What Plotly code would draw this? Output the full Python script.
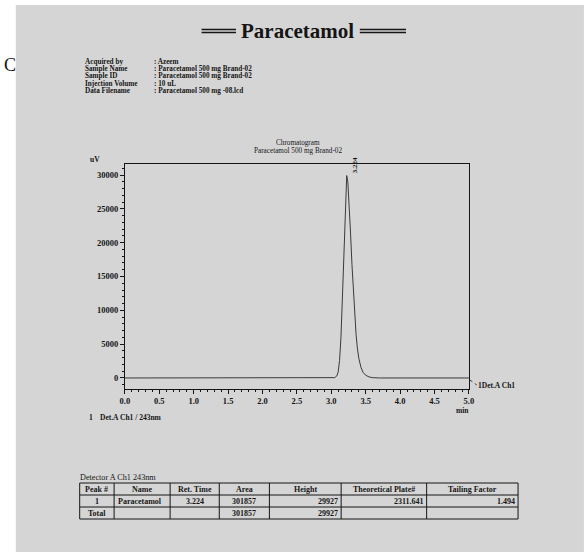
import plotly.graph_objects as go

W, H = 584, 552

# ---------------- data ----------------
time_min = [0.0, 1.0, 2.0, 3.0, 3.05, 3.08, 3.10, 3.12, 3.14, 3.16, 3.18, 3.20, 3.21,
            3.224, 3.24, 3.26, 3.28, 3.30, 3.32, 3.34, 3.36, 3.38, 3.40, 3.43, 3.46,
            3.50, 3.55, 3.60, 3.70, 4.0, 5.0]
signal_uv = [0, 0, 0, 0, 50, 300, 900, 2600, 6000, 11500, 18000, 24500, 27300,
             29927, 29000, 25800, 21300, 16800, 12700, 9200, 6400, 4300, 2900, 1600, 850,
             400, 150, 50, 0, 0, 0]
peak_rt = 3.224
peak_height = 29927

y_ticks = [0, 5000, 10000, 15000, 20000, 25000, 30000]
x_ticks = [0.0, 0.5, 1.0, 1.5, 2.0, 2.5, 3.0, 3.5, 4.0, 4.5, 5.0]

info_labels = ["Acquired by", "Sample Name", "Sample ID", "Injection Volume", "Data Filename"]
info_values = [": Azeem", ": Paracetamol 500 mg Brand-02", ": Paracetamol 500 mg Brand-02",
               ": 10 uL", ": Paracetamol 500 mg -08.lcd"]

table_header = ["Peak #", "Name", "Ret. Time", "Area", "Height", "Theoretical Plate#", "Tailing Factor"]
table_row1 = ["1", "Paracetamol", "3.224", "301857", "29927", "2311.641", "1.494"]
table_total = ["Total", "", "", "301857", "29927", "", ""]

# ---------------- helpers ----------------
def px(x):
    return x / W

def py(y):
    return 1 - y / H

SERIF = "Liberation Serif"
INK = "#151515"
BG = "#d5d5d5"

fig = go.Figure()
fig.add_trace(go.Scatter(x=time_min, y=signal_uv, mode="lines",
                         line=dict(color="#3a3a3a", width=1), hoverinfo="skip",
                         showlegend=False))

X0, X1 = 122, 472
Y0, Y1 = 164, 389

shapes = []
annots = []

def txt(text, x, y, size=7.5, anchor="left", bold=True, vanchor="middle"):
    annots.append(dict(text=("<b>%s</b>" % text) if bold else text, x=px(x), y=py(y),
                       xref="paper", yref="paper", showarrow=False, borderpad=0,
                       font=dict(family=SERIF, size=size, color=INK),
                       xanchor=anchor, yanchor=vanchor))

# page background
shapes.append(dict(type="rect", xref="paper", yref="paper", x0=px(11), x1=px(W + 5),
                   y0=py(H + 5), y1=py(5), fillcolor=BG, line=dict(width=0), layer="below"))

# title with double rules
txt("Paracetamol", 298, 31, size=21, anchor="center")
for (a, b) in [(200, 235), (361, 408)]:
    for yy in (29.5, 32.5):
        shapes.append(dict(type="line", xref="paper", yref="paper", x0=px(a), x1=px(b),
                           y0=py(yy), y1=py(yy), line=dict(color=INK, width=1.3)))

# left cut-off character
txt("C", 12, 65, size=18, anchor="right", bold=False)

# info block
for i, (lab, val) in enumerate(zip(info_labels, info_values)):
    yy = 61.5 + i * 7.4
    txt(lab, 80, yy, size=7.2)
    txt(val, 151, yy, size=7.2)

# chart titles
txt("Chromatogram", 298, 143, size=7.2, anchor="center", bold=False)
txt("Paracetamol 500 mg Brand-02", 298, 151.5, size=7.2, anchor="center", bold=False)
txt("uV", 85, 160, size=7.5)
txt("min", 473, 410, size=7.5, anchor="right")

# peak label
annots.append(dict(text="<b>%.3f</b>" % peak_rt, x=peak_rt, y=peak_height, xref="x", yref="y",
                   showarrow=False, textangle=-90, xshift=3, yshift=1, borderpad=0,
                   font=dict(family=SERIF, size=7, color=INK), xanchor="left", yanchor="bottom"))

# channel legend at right
shapes.append(dict(type="line", xref="paper", yref="paper", x0=px(473), x1=px(480),
                   y0=py(380), y1=py(385), line=dict(color=INK, width=0.8, dash="dot")))
txt("1Det.A Ch1", 480, 385.5, size=7.5)
txt("1", 84, 417, size=7.5)
txt("Det.A Ch1 / 243nm", 96, 417, size=7.5)

# results table
txt("Detector A Ch1 243nm", 75, 477, size=8.2, bold=False)
col_x = [76, 111, 168, 218, 269, 342, 429, 522]
row_y = [483, 495, 507, 519]
for yy in row_y:
    shapes.append(dict(type="line", xref="paper", yref="paper", x0=px(col_x[0]), x1=px(col_x[-1]),
                       y0=py(yy), y1=py(yy), line=dict(color=INK, width=1)))
for xx in col_x:
    shapes.append(dict(type="line", xref="paper", yref="paper", x0=px(xx), x1=px(xx),
                       y0=py(row_y[0]), y1=py(row_y[-1]), line=dict(color=INK, width=1)))
row_align = ["center", "left", "center", "center", "right", "right", "right"]
for r, (row, aligns) in enumerate([(table_header, ["center"] * 7), (table_row1, row_align),
                                   (table_total, row_align)]):
    yc = (row_y[r] + row_y[r + 1]) / 2
    for c, t in enumerate(row):
        if not t:
            continue
        a = aligns[c]
        if a == "center":
            xx, anc = (col_x[c] + col_x[c + 1]) / 2, "center"
        elif a == "left":
            xx, anc = col_x[c] + 3, "left"
        else:
            xx, anc = col_x[c + 1] - 2, "right"
        txt(t, xx, yc, size=8, anchor=anc)

tickfont = dict(family=SERIF, size=8.5, color=INK, weight="bold")

fig.update_layout(
    width=W, height=H,
    margin=dict(l=0, r=0, t=0, b=0),
    paper_bgcolor="white",
    plot_bgcolor="rgba(0,0,0,0)",
    showlegend=False,
    shapes=shapes,
    annotations=annots,
    xaxis=dict(domain=[px(X0), px(X1)], range=[0, 5], tickvals=x_ticks,
               ticktext=["%.1f" % v for v in x_ticks], showgrid=False, zeroline=False,
               showline=True, linecolor=INK, linewidth=1, mirror=True,
               ticks="outside", ticklen=4, tickcolor=INK, tickfont=tickfont,
               minor=dict(dtick=0.1, ticks="outside", ticklen=2, tickcolor=INK, showgrid=False)),
    yaxis=dict(domain=[py(Y1), py(Y0)], range=[-1630, 31630], tickvals=y_ticks,
               ticktext=[str(v) for v in y_ticks], showgrid=False, zeroline=False,
               showline=True, linecolor=INK, linewidth=1, mirror=True,
               ticks="outside", ticklen=4, tickcolor=INK, tickfont=tickfont,
               minor=dict(dtick=1000, ticks="outside", ticklen=2, tickcolor=INK, showgrid=False)),
)

fig.write_html("out.html", config={"displayModeBar": False},
               post_script="document.body.style.margin='0px';")
